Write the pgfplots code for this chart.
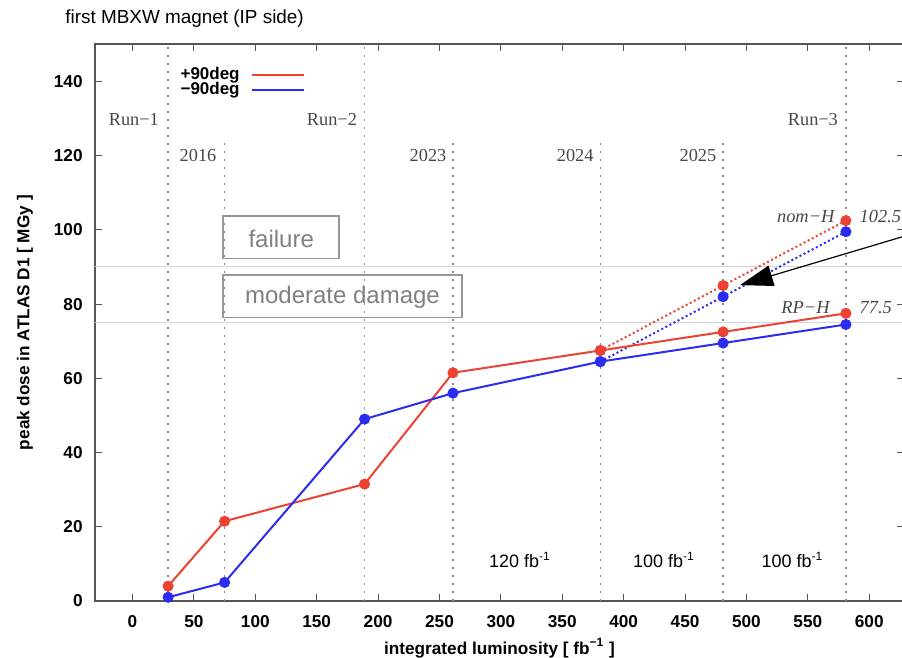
\documentclass[border=0pt]{standalone}
\usepackage{fontspec}
\setmainfont{Liberation Sans}
\newfontfamily\serif{Liberation Serif}
\usepackage{pgfplots}
\usepackage{pgfplotstable}
\pgfplotsset{compat=1.18}
\usetikzlibrary{arrows.meta}

\definecolor{lnred}{RGB}{236,66,52}
\definecolor{lnblue}{RGB}{44,44,240}
\definecolor{boxgray}{RGB}{150,150,150}
\definecolor{txtgray}{RGB}{128,128,128}
\definecolor{vgray}{RGB}{140,140,140}
\definecolor{hgray}{RGB}{212,212,212}
\definecolor{axgray}{RGB}{85,85,85}

\tikzset{
  vline/.style={vgray, line width=0.8pt, dash pattern=on 1pt off 3pt},
  runlbl/.style={anchor=base east, inner sep=0pt, text=black!72,
    font=\serif\fontsize{9.15}{11}\selectfont},
  scnlbl/.style={inner sep=0pt, text=black!72,
    font=\serif\itshape\fontsize{9.2}{11}\selectfont},
  fblbl/.style={anchor=base, inner sep=0pt, font=\fontsize{9}{11}\selectfont},
}

% peak dose [MGy] versus integrated luminosity [fb^-1]
\pgfplotstableread{
x y
29 4
75 21.5
189 31.5
261 61.5
381 67.5
481 72.5
581 77.5
}\redRP
\pgfplotstableread{
x y
29 1
75 5
189 49
261 56
381 64.5
481 69.5
581 74.5
}\blueRP
\pgfplotstableread{
x y
381 67.5
481 85
581 102.5
}\redNom
\pgfplotstableread{
x y
381 64.5
481 82
581 99.5
}\blueNom

\begin{document}
\begin{tikzpicture}
\begin{axis}[
  scale only axis,
  width=404.5pt, height=278.35pt,
  xmin=-30.54, xmax=628.3, ymin=0, ymax=150,
  xtick={0,50,...,600}, ytick={0,20,...,140},
  tick align=inside, major tick length=3.5pt,
  every tick/.style={color=axgray, line width=0.5pt},
  axis line style={color=axgray, line width=1pt},
  tick label style={font=\bfseries\fontsize{8.6}{10}\selectfont,
    /pgf/number format/assume math mode=true},
  yticklabel style={inner sep=0pt, anchor=east, xshift=-6pt},
  xticklabel style={inner sep=0pt, anchor=north, yshift=-7pt},
  every axis y label/.style={at={(axis description cs:-0.0865,0.5)}, rotate=90, anchor=center,
    font=\bfseries\fontsize{8.6}{10}\selectfont},
  every axis x label/.style={at={(axis description cs:0.5,-0.0845)}, anchor=center,
    font=\bfseries\fontsize{8.6}{10}\selectfont},
  ylabel={peak dose in ATLAS D1 [ MGy ]},
  xlabel={integrated luminosity [ fb\textsuperscript{−1} ]},
  clip=false,
  legend plot pos=right,
  legend cell align=right,
  legend image code/.code={\draw[line width=1pt] (0pt,0.3pt) -- (26pt,0.3pt);},
  legend style={draw=none, fill=none, inner sep=0pt,
    at={(axis cs:141,143.9)}, anchor=north east,
    font=\bfseries\fontsize{8.5}{8.5}\selectfont,
    nodes={inner sep=0pt, text height=6pt, text depth=1.8pt},
    row sep=0pt, column sep=5.8pt},
]
% damage thresholds
\draw[hgray, line width=0.5pt] (axis cs:-30.54,90) -- (axis cs:628.3,90);
\draw[hgray, line width=0.5pt] (axis cs:-30.54,75) -- (axis cs:628.3,75);

% run and year boundaries
\draw[vline] (axis cs:29,0) -- (axis cs:29,150);
\draw[vline] (axis cs:189,0) -- (axis cs:189,150);
\draw[vline] (axis cs:581,0) -- (axis cs:581,150);
\draw[vline] (axis cs:75,0) -- (axis cs:75,123.9);
\draw[vline] (axis cs:261,0) -- (axis cs:261,123.9);
\draw[vline] (axis cs:381,0) -- (axis cs:381,123.9);
\draw[vline] (axis cs:481,0) -- (axis cs:481,123.9);

% threshold boxes
\draw[boxgray, line width=0.9pt] (axis cs:73.9,92.3) rectangle (axis cs:168.4,103.7);
\node[txtgray, font=\fontsize{12}{14}\selectfont, inner sep=0pt] at (axis cs:121.15,97.6) {failure};
\draw[boxgray, line width=0.9pt] (axis cs:73.9,76.4) rectangle (axis cs:268.1,87.8);
\node[txtgray, font=\fontsize{12}{14}\selectfont, inner sep=0pt] at (axis cs:171,81.7) {moderate damage};

% projections (nominal)
\addplot[lnred, line width=1pt, dash pattern=on 1pt off 1.3pt, mark=*, mark size=2.25pt,
  mark options={solid}, forget plot] table[x=x,y=y] {\redNom};
\addplot[lnblue, line width=1pt, dash pattern=on 1pt off 1.3pt, mark=*, mark size=2.25pt,
  mark options={solid}, forget plot] table[x=x,y=y] {\blueNom};
% RP scenario
\addplot[lnred, line width=1pt, mark=*, mark size=2.25pt] table[x=x,y=y] {\redRP};
\addlegendentry{+90deg}
\addplot[lnblue, line width=1pt, mark=*, mark size=2.25pt] table[x=x,y=y] {\blueRP};
\addlegendentry{−90deg}

% labels
\node[runlbl] at (axis cs:21.8,128.2) {Run−1};
\node[runlbl] at (axis cs:183.1,128.2) {Run−2};
\node[runlbl] at (axis cs:574.8,128.2) {Run−3};
\node[runlbl] at (axis cs:68.6,118.3) {2016};
\node[runlbl] at (axis cs:255.9,118.3) {2023};
\node[runlbl] at (axis cs:375.8,118.3) {2024};
\node[runlbl] at (axis cs:475.7,118.3) {2025};

\node[scnlbl, anchor=base east] at (axis cs:572,102) {nom−H};
\node[scnlbl, anchor=base west] at (axis cs:591.9,102) {102.5};
\node[scnlbl, anchor=base east] at (axis cs:568,77.4) {RP−H};
\node[scnlbl, anchor=base west] at (axis cs:591.9,77.4) {77.5};

\node[fblbl] at (axis cs:315.6,8.9) {120 fb\textsuperscript{-1}};
\node[fblbl] at (axis cs:432.8,8.9) {100 fb\textsuperscript{-1}};
\node[fblbl] at (axis cs:537.5,8.9) {100 fb\textsuperscript{-1}};

\draw[line width=0.6pt, -{Triangle[length=16.5pt,width=10.5pt]}]
  (axis cs:650,100.4) -- (axis cs:494.7,85.1);
\end{axis}
\node[anchor=base west, inner sep=0pt, font=\fontsize{9.45}{11}\selectfont]
  at (-15pt,288.5pt) {first MBXW magnet (IP side)};
\pgfresetboundingbox
\useasboundingbox (-47.5pt,-28.5pt) rectangle (403.5pt,300.5pt);
\end{tikzpicture}
\end{document}
